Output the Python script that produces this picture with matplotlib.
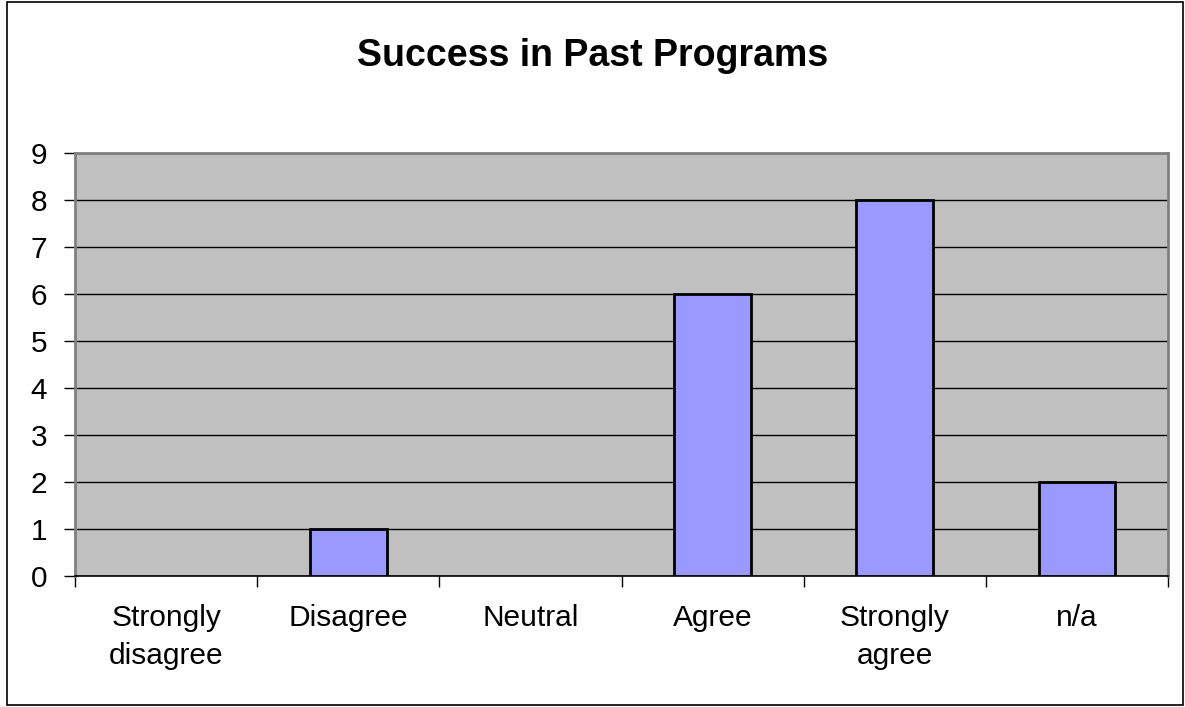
import matplotlib
matplotlib.use('Agg')
import matplotlib.pyplot as plt
from matplotlib.patches import Rectangle
import numpy as np

categories = ['Strongly\ndisagree', 'Disagree', 'Neutral', 'Agree', 'Strongly\nagree', 'n/a']
counts = [0, 1, 0, 6, 8, 2]

plt.rcParams['font.family'] = ['Liberation Sans', 'DejaVu Sans']

fig = plt.figure(figsize=(11.85, 7.07), dpi=100)
ax = fig.add_axes([75 / 1185, 1 - 576 / 707, (1168 - 75) / 1185, (576 - 153) / 707])

# outer chart border
fig.patches.append(Rectangle((7 / 1185, 2 / 707), 1 - 9 / 1185, 1 - 4 / 707,
                             transform=fig.transFigure, fill=False,
                             edgecolor='black', linewidth=1.2))

ax.set_facecolor('#C0C0C0')
x = np.arange(len(categories))
vals = np.array(counts, dtype=float)
shown = vals > 0
ax.bar(x[shown], vals[shown], width=0.42, color='#9999FF', edgecolor='black',
       linewidth=2, zorder=3)

ax.set_xlim(-0.5, len(categories) - 0.5)
ax.set_ylim(0, 9)
ax.set_yticks(range(0, 10))
ax.yaxis.grid(True, color='black', linewidth=1)
ax.set_axisbelow(True)

ax.set_xticks(np.arange(-0.5, len(categories), 1))
ax.set_xticklabels([])
ax.set_xticks(x, minor=True)
ax.set_xticklabels(categories, minor=True, fontsize=21.5, linespacing=1.45)
ax.tick_params(axis='x', which='minor', length=0, pad=20)
ax.tick_params(axis='x', which='major', length=8, width=1, color='black')
ax.tick_params(axis='y', length=8, width=1, labelsize=21.5, pad=12, color='black')

for side in ['top', 'right', 'left']:
    ax.spines[side].set_color('#808080')
    ax.spines[side].set_linewidth(2)
ax.spines['bottom'].set_color('black')
ax.spines['bottom'].set_linewidth(1.2)

fig.text(0.5, 1 - 56 / 707, 'Success in Past Programs', ha='center', va='center',
         fontsize=27, fontweight='bold')

fig.savefig('out.png', dpi=100)
